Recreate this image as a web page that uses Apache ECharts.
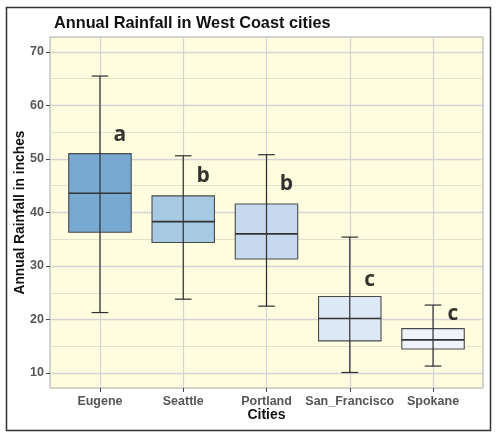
<!DOCTYPE html>
<html>
    <head>
        <meta charset="utf-8">
        <title>Annual Rainfall</title>
        <script src="https://cdn.jsdelivr.net/npm/echarts@6/dist/echarts.min.js"></script>
        <style>
            body { margin: 0; background: #fff; }
            #container { width: 500px; height: 439px; }
        </style>
    </head>
    <body>
        <div id="container"></div>
    </body>
    <script>
        // data
        var cities = ['Eugene', 'Seattle', 'Portland', 'San_Francisco', 'Spokane'];
        var whiskerLow = [21.3, 23.8, 22.5, 10.1, 11.3];
        var q1 = [36.3, 34.4, 31.3, 16.0, 14.5];
        var median = [43.6, 38.3, 36.0, 20.2, 16.2];
        var q3 = [51.0, 43.1, 41.6, 24.3, 18.3];
        var whiskerHigh = [65.5, 50.6, 50.8, 35.4, 22.7];
        var groupLetters = ['a', 'b', 'b', 'c', 'c'];
        var letterY = [54.5, 46.8, 45.4, 27.4, 21.0];
        var yTicks = [10, 20, 30, 40, 50, 60, 70];
        var yMinor = [15, 25, 35, 45, 55, 65];

        var boxColors = ['#77A9D1', '#A7C9E2', '#C6D9EE', '#DDE8F5', '#EFF4FB'];

        var chartDom = document.getElementById('container');
        var myChart = echarts.init(chartDom);

        var xPos = cities.map(function (c, i) { return i + 1; });

        var boxData = cities.map(function (c, i) {
            return [xPos[i], whiskerLow[i], q1[i], median[i], q3[i], whiskerHigh[i], i];
        });
        var letterData = cities.map(function (c, i) {
            return [xPos[i] + 0.24, letterY[i], groupLetters[i]];
        });

        function renderBox(params, api) {
            var x = api.value(0);
            var lo = api.coord([x, api.value(1)]);
            var b1 = api.coord([x, api.value(2)]);
            var md = api.coord([x, api.value(3)]);
            var b3 = api.coord([x, api.value(4)]);
            var hi = api.coord([x, api.value(5)]);
            var unit = api.size([1, 0])[0];
            var half = unit * 0.75 / 2;
            var cap = unit * 0.2 / 2;
            var cx = lo[0];
            var edge = { stroke: '#2e2e2e', lineWidth: 1.2 };
            return {
                type: 'group',
                children: [
                    {
                        type: 'rect',
                        shape: { x: cx - half, y: b3[1], width: half * 2, height: b1[1] - b3[1] },
                        style: { fill: boxColors[api.value(6)], stroke: '#4a4a4a', lineWidth: 1.1 }
                    },
                    { type: 'line', shape: { x1: cx, y1: lo[1], x2: cx, y2: hi[1] }, style: edge },
                    { type: 'line', shape: { x1: cx - cap, y1: lo[1], x2: cx + cap, y2: lo[1] }, style: edge },
                    { type: 'line', shape: { x1: cx - cap, y1: hi[1], x2: cx + cap, y2: hi[1] }, style: edge },
                    { type: 'line', shape: { x1: cx - half, y1: md[1], x2: cx + half, y2: md[1] },
                      style: { stroke: '#333', lineWidth: 1.6 } }
                ]
            };
        }

        var option = {
            backgroundColor: '#fff',
            animation: false,
            title: {
                text: 'Annual Rainfall in West Coast cities',
                left: 49,
                top: 11,
                textStyle: {
                    fontFamily: 'Liberation Sans',
                    fontWeight: 'bold',
                    fontSize: 16.3,
                    color: '#111'
                }
            },
            graphic: [{
                type: 'rect',
                shape: { x: 6.5, y: 7.5, width: 484, height: 423 },
                style: { fill: 'none', stroke: '#333', lineWidth: 1.5 },
                z: 100
            }],
            grid: {
                left: 50,
                right: 17,
                top: 37,
                bottom: 51,
                outerBoundsMode: 'none',
                show: true,
                backgroundColor: '#FFFDE0',
                borderColor: '#A8A8A8',
                borderWidth: 1
            },
            xAxis: {
                type: 'value',
                min: 0.4,
                max: 5.6,
                name: 'Cities',
                nameLocation: 'middle',
                nameGap: 20,
                nameMoveOverlap: false,
                nameTextStyle: {
                    fontFamily: 'Liberation Sans',
                    fontWeight: 'bold',
                    fontSize: 14,
                    color: '#111'
                },
                axisLine: { show: false },
                axisTick: {
                    show: true,
                    length: 4,
                    customValues: xPos,
                    lineStyle: { color: '#444' }
                },
                axisLabel: {
                    customValues: xPos,
                    margin: 7,
                    fontFamily: 'Liberation Sans',
                    fontWeight: 'bold',
                    fontSize: 12.5,
                    color: '#555',
                    formatter: function (v) { return cities[Math.round(v) - 1] || ''; }
                },
                splitLine: { show: true, lineStyle: { color: '#D4D4D4', width: 1.3 } }
            },
            yAxis: [{
                type: 'value',
                min: 7.2,
                max: 72.8,
                name: 'Annual Rainfall in inches',
                nameLocation: 'middle',
                nameGap: 23,
                nameMoveOverlap: false,
                nameRotate: 90,
                nameTextStyle: {
                    fontFamily: 'Liberation Sans',
                    fontWeight: 'bold',
                    fontSize: 13.8,
                    color: '#111'
                },
                axisLine: { show: false },
                axisTick: {
                    show: true,
                    length: 4,
                    customValues: yTicks,
                    lineStyle: { color: '#444' }
                },
                axisLabel: {
                    customValues: yTicks,
                    margin: 6,
                    fontFamily: 'Liberation Sans',
                    fontWeight: 'bold',
                    fontSize: 12.5,
                    color: '#555'
                },
                splitLine: { show: true, lineStyle: { color: '#D4D4D4', width: 1.3 } }
            }, {
                type: 'value',
                min: 7.2,
                max: 72.8,
                position: 'right',
                axisLine: { show: false },
                axisTick: { show: false, customValues: yMinor },
                axisLabel: { show: false, customValues: yMinor },
                splitLine: { show: true, lineStyle: { color: '#E0DECB', width: 0.9 } }
            }],
            series: [{
                type: 'custom',
                renderItem: renderBox,
                data: boxData,
                encode: { x: 0, y: [1, 5] },
                z: 5
            }, {
                type: 'scatter',
                data: letterData,
                symbolSize: 1,
                itemStyle: { color: 'rgba(0,0,0,0)' },
                label: {
                    show: true,
                    position: 'inside',
                    formatter: function (p) { return p.value[2]; },
                    fontFamily: 'Open Sans',
                    fontWeight: 'bold',
                    fontSize: 21,
                    color: '#000',
                    textBorderWidth: 0
                },
                z: 6
            }]
        };

        myChart.setOption(option);
    </script>
</html>
